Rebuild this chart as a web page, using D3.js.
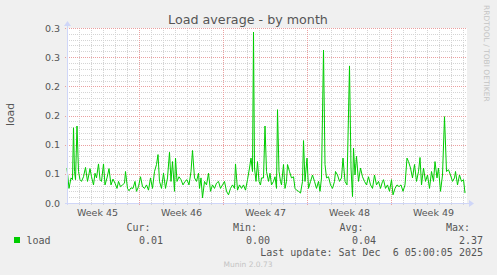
<!DOCTYPE html>
<html lang="en">
<head>
  <meta charset="UTF-8">
  <title>Load average - by month</title>
  <script src="https://d3js.org/d3.v7.min.js"></script>
  <style>
    body { margin: 0; background: #f0f0f0; }
    svg { display: block; }
    .title { font-family: 'DejaVu Sans', sans-serif; font-size: 12.7px; fill: #555; }
    .axis text { font-family: 'DejaVu Sans', sans-serif; font-size: 9.5px; fill: #555; }
    .legend text { font-family: 'DejaVu Sans Mono', monospace; font-size: 10px; fill: #555; white-space: pre; }
    .small { font-family: 'DejaVu Sans', sans-serif; font-size: 7.5px; fill: #c4c4c4; }
  </style>
</head>
<body>
<div id="chart"></div>
<script>
  // hours since the left edge of the graph (Nov 4 2025 00:00)
  const hours = [0,4,8,11,13,15,17,20,23,26,29,33,37,41,46,49,53,56,59,63,66,69,73,76,80,84,88,92,96,100,
    103,107,111,115,117,121,124,128,132,136,139,143,147,151,155,159,163,167,171,175,179,182,185,189,193,197,201,205,208,211,
    215,217,220,224,228,232,236,240,244,248,251,255,259,263,265,268,271,275,279,283,287,291,295,299,303,307,311,315,319,323,
    327,331,335,337,341,345,349,353,357,361,365,368,371,373,375,378,381,384,387,389,393,396,
    399,403,406,409,413,416,419,421,424,427,429,433,436,439,441,445,449,453,456,459,463,467,471,473,476,480,483,487,491,495,
    499,503,506,509,513,516,519,523,527,531,535,537,541,545,549,552,556,560,565,568,571,573,576,579,583,587,591,595,599,603,
    607,611,615,619,623,627,631,633,637,641,645,649,652,656,660,664,668,672,676,680,683,687,691,695,699,703,706,709,713,717,
    721,725,729,733,736,740,743,747,751,755,759,763,767,771,775,777,781,785,789,793,796];

  const load = [0.060,0.025,0.043,0.040,0.129,0.054,0.040,0.132,0.054,0.040,0.037,0.045,0.061,0.037,0.059,0.045,0.031,0.051,0.043,0.067,
    0.040,0.037,0.067,0.031,0.043,0.059,0.031,0.041,0.034,0.025,0.037,0.028,0.031,0.034,0.054,0.025,0.021,0.026,0.025,0.037,
    0.020,0.028,0.045,0.028,0.025,0.031,0.022,0.043,0.025,0.054,0.066,0.083,0.037,0.025,0.051,0.025,0.043,0.087,0.037,0.071,
    0.020,0.077,0.037,0.045,0.040,0.031,0.037,0.040,0.031,0.054,0.090,0.043,0.037,0.051,0.025,0.043,0.009,0.037,0.031,0.051,
    0.020,0.031,0.025,0.034,0.037,0.025,0.031,0.037,0.020,0.014,0.025,0.031,0.025,0.067,0.022,0.031,0.025,0.031,0.022,0.040,
    0.060,0.077,0.054,0.293,0.060,0.037,0.071,0.037,0.031,0.043,0.043,0.132,
    0.054,0.037,0.051,0.031,0.037,0.045,0.025,0.160,0.054,0.037,0.031,0.066,0.025,0.037,0.066,0.054,0.043,0.045,0.025,0.022,
    0.020,0.017,0.037,0.107,0.037,0.077,0.025,0.037,0.048,0.037,0.025,0.037,0.020,0.043,0.262,0.066,0.043,0.045,0.031,0.025,
    0.037,0.054,0.048,0.037,0.043,0.077,0.037,0.031,0.235,0.060,0.011,0.094,0.048,0.080,0.037,0.060,0.045,0.037,0.031,0.045,
    0.031,0.025,0.048,0.031,0.037,0.025,0.037,0.040,0.025,0.031,0.020,0.040,0.014,0.025,0.031,0.028,0.031,0.020,0.031,0.077,
    0.071,0.060,0.043,0.066,0.037,0.054,0.078,0.031,0.060,0.037,0.048,0.025,0.054,0.037,0.071,0.043,0.060,0.020,0.048,0.148,
    0.054,0.057,0.048,0.037,0.043,0.054,0.031,0.048,0.037,0.040,0.017];

  const yTicks = [0, 0.05, 0.1, 0.15, 0.2, 0.25, 0.3];
  const yTickLabels = ["0.0", "0.1", "0.1", "0.2", "0.2", "0.3", "0.3"];
  const legendHeads = ["Cur:", "Min:", "Avg:", "Max:"];
  const legendValues = ["0.01", "0.00", "0.04", "2.37"];
  const seriesName = "load";
  const lastUpdate = "Last update: Sat Dec  6 05:00:05 2025";

  const W = 497, H = 275;
  const plotL = 67, plotR = 467, plotT = 28, plotB = 203;
  const axisColor = "#cfd6f8";
  const lineColor = "#00cc00";

  const start = new Date(Date.UTC(2025, 10, 4));
  const end = d3.utcHour.offset(start, 800);

  const x = d3.scaleUtc().domain([start, end]).range([plotL, plotR]);
  const y = d3.scaleLinear().domain([0, 0.3]).range([plotB, plotT]);

  const data = hours.map((h, i) => ({ t: d3.utcHour.offset(start, h), v: load[i] }));

  const svg = d3.select('#chart').append('svg')
    .attr('width', W)
    .attr('height', H);

  svg.append('rect').attr('width', W).attr('height', H).attr('fill', '#f0f0f0');
  svg.append('rect')
    .attr('x', plotL).attr('y', plotT)
    .attr('width', plotR - plotL).attr('height', plotB - plotT)
    .attr('fill', '#fff');

  // minor grid
  const px = v => Math.round(v) + 0.5;
  const minorY = d3.range(1, 30).map(d => d / 100).filter(d => Math.round(d * 100) % 5 !== 0);
  svg.selectAll('.hminor').data(minorY).enter().append('line')
    .attr('x1', plotL).attr('x2', plotR)
    .attr('y1', d => px(y(d))).attr('y2', d => px(y(d)))
    .attr('stroke', '#d4d4d4').attr('stroke-dasharray', '1,1');

  const days = d3.utcDay.range(d3.utcDay.offset(start, 1), end).filter(d => d.getUTCDay() !== 1);
  svg.selectAll('.vminor').data(days).enter().append('line')
    .attr('x1', d => px(x(d))).attr('x2', d => px(x(d)))
    .attr('y1', plotT).attr('y2', plotB + 2)
    .attr('stroke', '#d4d4d4').attr('stroke-dasharray', '1,1');

  // major grid
  svg.selectAll('.hmajor').data(yTicks.slice(1)).enter().append('line')
    .attr('x1', plotL - 2).attr('x2', plotR)
    .attr('y1', d => px(y(d))).attr('y2', d => px(y(d)))
    .attr('stroke', '#eaa0a0').attr('stroke-dasharray', '1,1');

  const mondays = d3.utcMonday.range(start, end);
  svg.selectAll('.vmajor').data(mondays).enter().append('line')
    .attr('x1', d => px(x(d))).attr('x2', d => px(x(d)))
    .attr('y1', plotT).attr('y2', plotB + 3)
    .attr('stroke', '#eaa0a0').attr('stroke-dasharray', '1,1');

  // series
  svg.append('path')
    .datum(data)
    .attr('fill', 'none')
    .attr('stroke', lineColor)
    .attr('stroke-width', 1)
    .attr('d', d3.line().x(d => x(d.t)).y(d => y(d.v)));

  // axes lines with arrows
  svg.append('line')
    .attr('x1', plotL - 2).attr('x2', plotR + 3)
    .attr('y1', plotB + 0.5).attr('y2', plotB + 0.5)
    .attr('stroke', axisColor);
  svg.append('path')
    .attr('d', `M${plotR + 2},${plotB - 3} L${plotR + 7},${plotB + 0.5} L${plotR + 2},${plotB + 4} Z`)
    .attr('fill', axisColor);
  svg.append('line')
    .attr('x1', plotL + 0.5).attr('x2', plotL + 0.5)
    .attr('y1', plotB + 2).attr('y2', plotT - 3)
    .attr('stroke', axisColor);
  svg.append('path')
    .attr('d', `M${plotL - 3},${plotT - 2} L${plotL + 0.5},${plotT - 7} L${plotL + 4},${plotT - 2} Z`)
    .attr('fill', axisColor);

  // y axis labels
  const yAxis = svg.append('g')
    .attr('class', 'axis')
    .attr('transform', `translate(${plotL},0)`)
    .call(d3.axisLeft(y).tickValues(yTicks).tickFormat((d, i) => yTickLabels[i]).tickSize(0).tickPadding(7));
  yAxis.select('.domain').remove();

  // x axis labels, centred on each week
  const weekCentres = d3.utcMonday.range(d3.utcDay.offset(start, -7), end)
    .map(d => d3.utcHour.offset(d, 84))
    .filter(d => d > start && d < end);
  const xAxis = svg.append('g')
    .attr('class', 'axis')
    .attr('transform', `translate(0,${plotB})`)
    .call(d3.axisBottom(x).tickValues(weekCentres).tickFormat(d3.utcFormat('Week %V')).tickSize(0).tickPadding(6.5));
  xAxis.select('.domain').remove();

  // title
  svg.append('text')
    .attr('class', 'title')
    .attr('x', 248).attr('y', 24)
    .attr('text-anchor', 'middle')
    .text('Load average - by month');

  // vertical unit label
  svg.append('text')
    .attr('class', 'title')
    .style('font-size', '10.8px')
    .attr('transform', 'translate(14,114.5) rotate(-90)')
    .attr('text-anchor', 'middle')
    .text('load');

  // watermark
  svg.append('text')
    .attr('class', 'small')
    .attr('transform', 'translate(483.5,5) rotate(90)')
    .text('RRDTOOL / TOBI OETIKER');

  // legend
  const legend = svg.append('g').attr('class', 'legend');
  const colRight = [150.5, 257, 363.5, 470];
  const valRight = [163, 270, 376, 483];
  legend.append('rect')
    .attr('x', 14).attr('y', 237).attr('width', 6).attr('height', 6)
    .attr('fill', lineColor);
  legend.append('text').attr('x', 26.5).attr('y', 243.5).text(seriesName);
  legend.selectAll('.head').data(legendHeads).enter().append('text')
    .attr('x', (d, i) => colRight[i]).attr('y', 231)
    .attr('text-anchor', 'end')
    .text(d => d);
  legend.selectAll('.val').data(legendValues).enter().append('text')
    .attr('x', (d, i) => valRight[i]).attr('y', 243.5)
    .attr('text-anchor', 'end')
    .text(d => d);
  legend.append('text')
    .attr('x', 483).attr('y', 255.5)
    .attr('text-anchor', 'end')
    .text(lastUpdate);

  svg.append('text')
    .attr('class', 'small')
    .attr('x', 248).attr('y', 266.5)
    .attr('text-anchor', 'middle')
    .text('Munin 2.0.73');
</script>
</body>
</html>
